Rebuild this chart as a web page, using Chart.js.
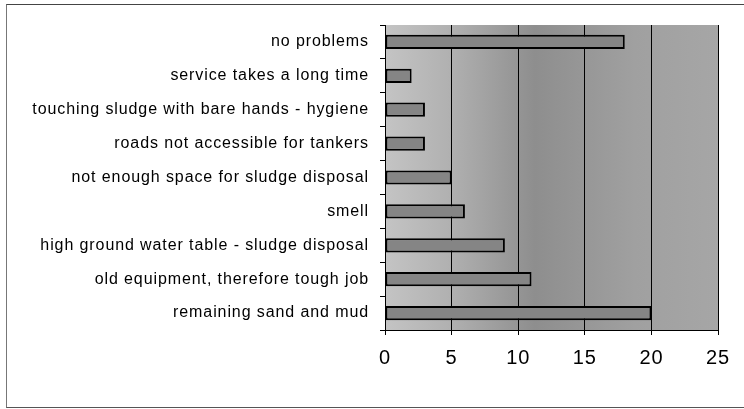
<!DOCTYPE html>
<html>
<head>
<meta charset="utf-8">
<script src="https://cdn.jsdelivr.net/npm/chart.js@4"></script>
<style>
  html, body { margin: 0; padding: 0; background: #fff; }
  #wrap { position: relative; width: 744px; height: 409px; overflow: hidden; }
  #frame { position: absolute; left: 6px; top: 4px; width: 760px; height: 402px;
           border-left: 1px solid #777; border-top: 1px solid #444; border-bottom: 1px solid #555; }
  canvas { position: absolute; left: 0; top: 0; }
</style>
</head>
<body>
<div id="wrap">
  <div id="frame"></div>
  <canvas id="chart" width="744" height="409"></canvas>
</div>
<script>
(function(){
  const categories = [
    'no problems',
    'service takes a long time',
    'touching sludge with bare hands - hygiene',
    'roads not accessible for tankers',
    'not enough space for sludge disposal',
    'smell',
    'high ground water table - sludge disposal',
    'old equipment, therefore tough job',
    'remaining sand and mud'
  ];
  const counts = [18, 2, 3, 3, 5, 6, 9, 11, 20];
  const xTicks = [0, 5, 10, 15, 20, 25];

  const font = "'Liberation Sans', Arial, sans-serif";

  // shaded plot background, like the old spreadsheet fill
  const plotBg = {
    id: 'plotBg',
    beforeDraw(chart) {
      const { ctx, chartArea: a } = chart;
      ctx.letterSpacing = '0.9px';   // the scanned labels are set a bit wide
      const g = ctx.createLinearGradient(a.left, 0, a.right, 0);
      g.addColorStop(0, '#c4c4c4');
      g.addColorStop(0.2, '#b0b0b0');
      g.addColorStop(0.45, '#8e8e8e');
      g.addColorStop(0.75, '#a0a0a0');
      g.addColorStop(1, '#a6a6a6');
      ctx.save();
      ctx.fillStyle = g;
      ctx.fillRect(a.left, a.top, a.right - a.left, a.bottom - a.top);
      ctx.restore();
    }
  };

  new Chart(document.getElementById('chart'), {
    type: 'bar',
    data: {
      labels: categories,
      datasets: [{
        data: counts,
        backgroundColor: '#858585',
        borderColor: '#000',
        borderWidth: 2,
        borderSkipped: false,
        barPercentage: 0.42,
        categoryPercentage: 1
      }]
    },
    options: {
      indexAxis: 'y',
      responsive: false,
      animation: false,
      layout: { padding: { left: 6, right: 26, top: 25, bottom: 0 } },
      plugins: { legend: { display: false }, tooltip: { enabled: false } },
      scales: {
        x: {
          min: 0, max: 25,
          afterBuildTicks(scale) { scale.ticks = xTicks.map(v => ({ value: v })); },
          afterFit(scale) { scale.height = 79; },
          grid: { color: '#000', lineWidth: 1, tickLength: 5, drawOnChartArea: true },
          border: { color: '#000', width: 1 },
          ticks: { color: '#000', font: { family: font, size: 20 }, padding: 11 }
        },
        y: {
          afterFit(scale) { scale.width = 385 - 6; },
          grid: { drawOnChartArea: false, color: '#000', tickLength: 5, offset: true },
          border: { color: '#000', width: 1 },
          ticks: { color: '#000', font: { family: font, size: 16 }, padding: 11 }
        }
      }
    },
    plugins: [plotBg]
  });
})();
</script>
</body>
</html>
